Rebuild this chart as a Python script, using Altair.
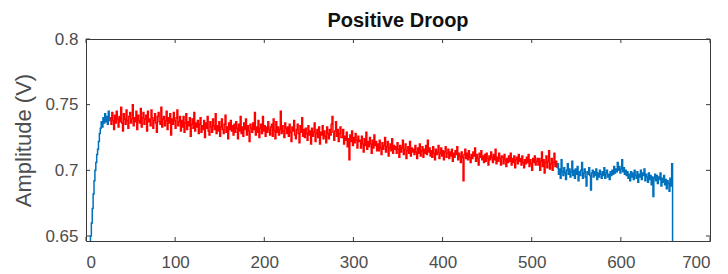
import altair as alt
import pandas as pd

# ---- data (amplitude in millivolts, one sample per x unit) ----
title_text = "Positive Droop"
y_title = "Amplitude (V)"
x_ticks = [0, 100, 200, 300, 400, 500, 600, 700]
y_ticks = [0.65, 0.7, 0.75, 0.8]

rise_start = 3
rise_mV = [600, 630, 650, 660, 671, 682, 692, 700, 706, 712, 716, 722, 728, 732,
           737, 733, 740, 736, 743, 737, 741, 735, 745, 738, 740]

droop_start = 27
droop_mV = [
    740, 735, 744, 738, 731, 742, 736, 745, 739, 733, 741, 737, 748, 736, 730, 743, 739, 735, 746, 738,
    732, 741, 744, 736, 739, 750, 734, 740, 737, 745, 731, 742, 738, 736, 747, 733, 740, 744, 735, 739,
    742, 730, 745, 737, 739, 734, 746, 740, 732, 738, 743, 736, 729, 741, 744, 737, 735, 748, 733, 739,
    741, 734, 738, 745, 731, 740, 736, 743, 727, 739, 735, 744, 738, 732, 740, 746, 734, 737, 741, 730,
    738, 733, 741, 729, 736, 743, 731, 737, 734, 740, 726, 735, 739, 732, 744, 730, 736, 733, 738, 728,
    735, 740, 729, 734, 731, 738, 725, 736, 732, 741, 730, 727, 737, 733, 729, 739, 734, 731, 743, 728,
    734, 730, 737, 726, 733, 739, 731, 728, 735, 742, 729, 733, 724, 736, 731, 738, 730, 734, 727, 735,
    729, 737, 732, 724, 735, 730, 741, 728, 733, 726, 736, 731, 739, 727, 734, 730, 722, 735, 732, 729,
    736, 731, 744, 727, 733, 729, 738, 725, 732, 735, 728, 741, 730, 734, 726, 733, 729, 737, 731, 727,
    733, 735, 726, 739, 730, 724, 737, 729, 733, 727, 731, 745, 728, 734, 730, 725, 736, 732, 728, 733,
    726, 735, 729, 722, 733, 730, 738, 727, 724, 731, 735, 728, 721, 734, 729, 740, 726, 731, 725, 732,
    728, 723, 734, 727, 730, 720, 732, 726, 729, 736, 722, 728, 731, 725, 733, 720, 729, 727, 734, 724,
    730, 726, 721, 733, 728, 724, 731, 727, 735, 741, 729, 723, 730, 737, 726, 731, 722, 728, 733, 725,
    725, 731, 720, 726, 723, 729, 718, 724, 708, 727, 722, 730, 719, 725, 721, 728, 723, 717, 726, 722,
    723, 717, 726, 720, 714, 724, 719, 729, 716, 722, 718, 725, 720, 713, 723, 717, 727, 719, 722, 715,
    720, 715, 723, 717, 712, 721, 716, 719, 725, 714, 718, 722, 711, 717, 720, 715, 724, 713, 719, 716,
    718, 713, 721, 716, 710, 719, 714, 717, 723, 712, 716, 720, 709, 715, 718, 713, 722, 711, 717, 714,
    716, 712, 719, 714, 709, 717, 713, 720, 711, 715, 718, 710, 716, 713, 719, 712, 723, 714, 717, 711,
    715, 710, 718, 713, 708, 716, 712, 714, 719, 709, 713, 717, 711, 715, 708, 714, 718, 710, 713, 716,
    709, 714, 711, 716, 707, 713, 710, 715, 712, 718, 708, 713, 711, 706, 714, 710, 692, 712, 716, 709,
    713, 708, 715, 710, 706, 712, 709, 714, 711, 717, 707, 712, 709, 704, 713, 710, 715, 708, 711, 706,
    712, 707, 713, 709, 704, 711, 708, 714, 710, 706, 712, 708, 716, 705, 710, 707, 713, 709, 704, 711,
    710, 705, 712, 708, 703, 709, 706, 711, 707, 713, 704, 709, 706, 711, 702, 708, 710, 705, 712, 707,
    709, 704, 711, 706, 702, 708, 705, 710, 706, 712, 703, 708, 705, 700, 709, 706, 711, 704, 707, 709,
    704, 709, 700, 707, 714, 703, 708, 698, 706, 711, 702, 707, 715, 701, 705, 709, 700, 706, 713, 703,
    707, 702,
]

tail_start = 528
tail_mV = [
    702,
    705, 697, 701, 694, 708, 699, 696, 702, 698, 693, 700, 705, 697, 701, 695, 699, 707, 696, 700, 694,
    701, 697, 703, 692, 699, 696, 700, 706, 694, 698, 701, 695, 688, 699, 697, 702, 696, 685, 698, 700,
    695, 699, 696, 701, 693, 698, 695, 700, 697, 694, 699, 696, 702, 694, 698, 700, 695, 697, 693, 699,
    696, 700, 697, 703, 698, 701, 699, 706, 700, 703, 698, 701, 708, 699, 702, 697, 700, 696, 699, 694,
    697, 692, 699, 695, 698, 693, 700, 696, 694, 699, 691, 697, 695, 700, 693, 698, 696, 701, 692, 697,
    695, 691, 698, 693, 696, 689, 695, 680, 694, 697, 692, 696, 690, 695, 693, 698, 688, 694, 691, 696,
    689, 693, 686, 692, 690, 684, 694, 688,
    705, 600,
]

segments = [("a_rise", rise_start, rise_mV),
            ("b_droop", droop_start, droop_mV),
            ("c_tail", tail_start, tail_mV)]

rows = []
for name, start, vals in segments:
    for i, v in enumerate(vals):
        rows.append({"x": start + i, "amp": v / 1000.0, "seg": name})
df = pd.DataFrame(rows)

BLUE = "#0072BD"
RED = "#FF0000"
FRAME = "#3a3a3a"
LABEL = "#4d4d4d"
FONT = "Liberation Sans"

W, H = 624, 202
xs = alt.Scale(domain=[0, 700], nice=False)
ys = alt.Scale(domain=[0.6462, 0.8], nice=False, zero=False)

line = alt.Chart(df).mark_line(strokeWidth=1.5, clip=True, interpolate="step-after").encode(
    x=alt.X("x:Q", scale=xs, axis=alt.Axis(values=x_ticks, title=None, domain=False,
                                            ticks=False, grid=False, labelPadding=13,
                                            labelFontSize=17, labelColor=LABEL, labelFont=FONT)),
    y=alt.Y("amp:Q", scale=ys, axis=alt.Axis(values=y_ticks, format=".2~f", title=y_title,
                                              domain=False, ticks=False, grid=False,
                                              labelPadding=8, labelFontSize=17, labelColor=LABEL,
                                              labelFont=FONT, titleFont=FONT, titleFontSize=22,
                                              titleFontWeight="normal", titleColor=LABEL,
                                              titleX=-63, titleY=H / 2, titleAngle=-90,
                                              titleAlign="center", titleBaseline="middle")),
    color=alt.Color("seg:N", scale=alt.Scale(domain=["a_rise", "b_droop", "c_tail"],
                                             range=[BLUE, RED, BLUE]), legend=None),
)

xt = pd.DataFrame({"t": x_ticks})
yt = pd.DataFrame({"t": y_ticks})
tick_bottom = alt.Chart(xt).mark_rule(color=FRAME, strokeWidth=1).encode(
    x=alt.X("t:Q", scale=xs), y=alt.value(H), y2=alt.value(H - 4))
tick_top = alt.Chart(xt).mark_rule(color=FRAME, strokeWidth=1).encode(
    x=alt.X("t:Q", scale=xs), y=alt.value(0), y2=alt.value(4))
tick_left = alt.Chart(yt).mark_rule(color=FRAME, strokeWidth=1).encode(
    y=alt.Y("t:Q", scale=ys), x=alt.value(0), x2=alt.value(4))
tick_right = alt.Chart(yt).mark_rule(color=FRAME, strokeWidth=1).encode(
    y=alt.Y("t:Q", scale=ys), x=alt.value(W), x2=alt.value(W - 4))

chart = alt.layer(line, tick_bottom, tick_top, tick_left, tick_right).properties(
    width=W, height=H,
    title=alt.TitleParams(title_text, fontSize=20, fontWeight="bold", font=FONT,
                          color="#111111", offset=7, dy=8, anchor="middle", frame="group"),
    autosize=alt.AutoSizeParams(type="none"),
    padding={"left": 78, "top": 31, "right": 10, "bottom": 33},
).configure(
    background="white",
    view=alt.ViewConfig(stroke=FRAME, strokeWidth=1),
)

chart.save("out.html", embed_options={"renderer": "svg", "actions": False})
